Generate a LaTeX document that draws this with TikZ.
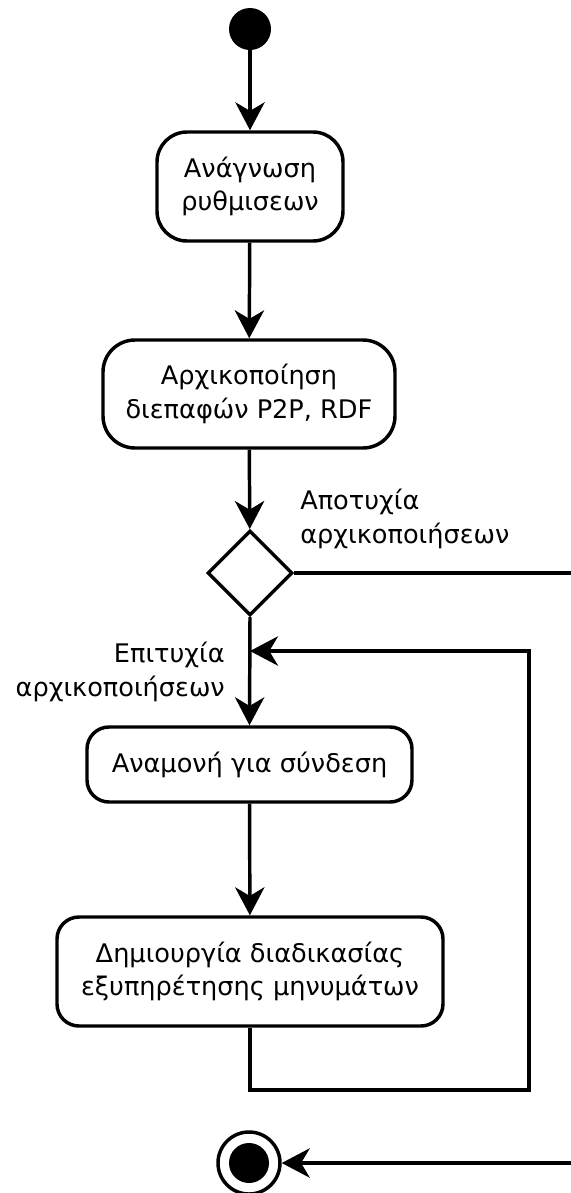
\documentclass[tikz,border=0pt]{standalone}
\usepackage{fontspec}
\setmainfont{DejaVu Sans}
\usetikzlibrary{arrows.meta,shapes.geometric}
\begin{document}
\begin{tikzpicture}[x=0.75pt,y=-0.75pt,
  every node/.style={font=\fontsize{19.2}{25}\selectfont},
  line/.style={line width=2.6pt},
  flow/.style={line, -{Stealth[length=21pt,width=22pt,inset=6.5pt]}},
  activity/.style={draw, line width=2.6pt, align=center, inner sep=0pt},
  decision/.style={draw, line width=2.6pt, diamond, aspect=1, inner sep=0pt,
    minimum width=63.75pt, minimum height=63.75pt},
  guard/.style={inner sep=0pt}
]
\useasboundingbox (0,0) rectangle (571,1193);

% initial node
\node[circle, fill=black, inner sep=0pt, minimum size=31.5pt] (start) at (250,29) {};

% activities
\node[activity, rounded corners=22.5pt, minimum width=139.5pt, minimum height=81.75pt]
  (b1) at (250,186.5) {Ανάγνωση\\ρυθμισεων};
\node[activity, rounded corners=24pt, minimum width=219pt, minimum height=81pt]
  (b2) at (249,394) {Αρχικοποίηση\\διεπαφών P2P, RDF};
\node[decision] (dec) at (250,573) {};
\node[activity, rounded corners=16.5pt, minimum width=243.75pt, minimum height=56.25pt]
  (b3) at (249.5,764.5) {Αναμονή για σύνδεση};
\node[activity, rounded corners=16.5pt, minimum width=289.5pt, minimum height=81.75pt]
  (b4) at (250,971.5) {Δημιουργία διαδικασίας\\εξυπηρέτησης μηνυμάτων};

% final node
\node[circle, draw, line width=2.6pt, inner sep=0pt, minimum size=46.5pt] (end) at (249,1163) {};
\node[circle, fill=black, inner sep=0pt, minimum size=30pt] (endDot) at (end.center) {};

% guards
\node[guard, anchor=west, align=left] (failLbl) at (300,519) {Αποτυχία\\αρχικοποιήσεων};
\node[guard, anchor=east, align=right] (okLbl) at (225,672) {Επιτυχία\\αρχικοποιήσεων};

% helper points
\coordinate (join) at (250,651);
\coordinate (loopBR) at (529,1090);
\coordinate (failOut) at (571,573);
\coordinate (failIn) at (571,1163);

% control flow
\draw[flow] (start) -- (b1);
\draw[flow] (b1) -- (b2);
\draw[flow] (b2) -- (dec);
\draw[line] (dec.east) -- (failOut);
\draw[flow] (dec.south) -- (b3.north);
\draw[flow] (b3) -- (b4);
\draw[flow] (b4.south) -- (b4.south |- loopBR) -- (loopBR) -- (loopBR |- join) -- (join);
\draw[flow] (failIn) -- (end);
\end{tikzpicture}
\end{document}
